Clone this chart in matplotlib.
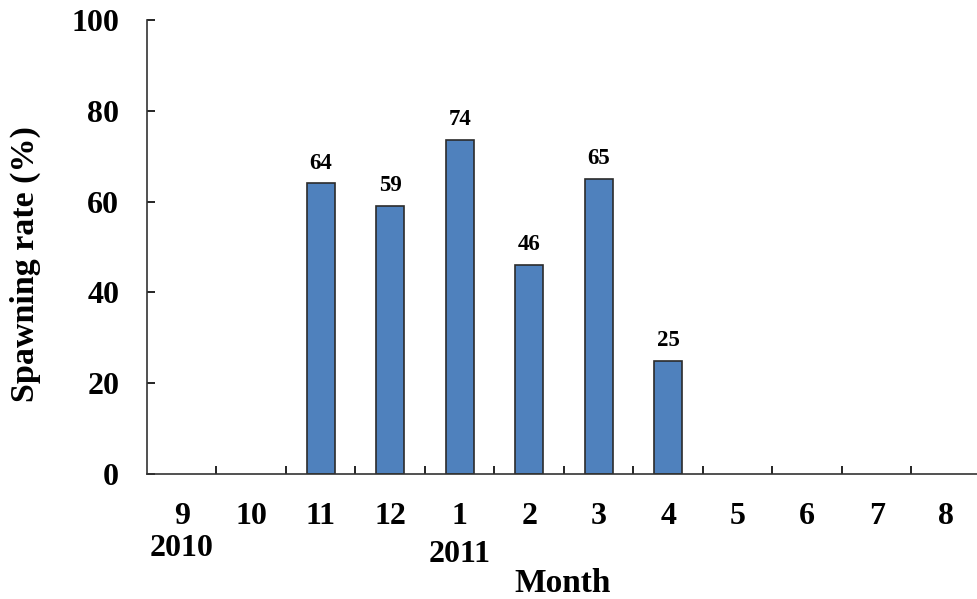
import matplotlib.pyplot as plt
import numpy as np

# monthly spawning rate, Sep 2010 - Aug 2011
months = ["9", "10", "11", "12", "1", "2", "3", "4", "5", "6", "7", "8"]
rate = [0, 0, 64, 59, 73.6, 46, 65, 25, 0, 0, 0, 0]
labels = ["", "", "64", "59", "74", "46", "65", "25", "", "", "", ""]
years = {0: "2010", 4: "2011"}

plt.rcParams['font.family'] = ['Liberation Serif', 'DejaVu Serif']
plt.rcParams['font.weight'] = 'bold'

fig = plt.figure(figsize=(9.78, 5.99), dpi=100)
ax = fig.add_axes([147/978, 1 - 474/599, 834/978, 454/599])

x = np.arange(len(months))
edges = ['#2b2b2b' if v > 0 else 'none' for v in rate]
ax.bar(x, rate, width=0.41, color='#4F81BD', edgecolor=edges, linewidth=1.2)

for i, (v, t) in enumerate(zip(rate, labels)):
    if t:
        ax.annotate(t, (i, v), xytext=(0, 7), textcoords='offset points',
                    ha='center', va='bottom', fontsize=16.5, fontweight='bold')

ax.set_xlim(-0.5, 11.5)
ax.set_ylim(0, 100)
ax.set_yticks([0, 20, 40, 60, 80, 100])

# boundary ticks without labels, labels centered on each month
ax.set_xticks(np.arange(0.5, 11.5, 1))
ax.set_xticklabels([])
ax.set_xticks(x, minor=True)
ax.set_xticklabels(months, minor=True)
ax.tick_params(axis='x', which='major', direction='in', length=6, width=1.2)
ax.tick_params(axis='x', which='minor', length=0, pad=20, labelsize=23)
ax.tick_params(axis='y', direction='in', length=6, width=1.2, pad=20, labelsize=23)

for i, y in years.items():
    ax.annotate(y, (i, 0), xycoords=('data', 'axes fraction'),
                xytext=(0, -75 - 5 * (i > 0)), textcoords='offset pixels',
                ha='center', va='center', fontsize=23, fontweight='bold')

for s in ['top', 'right']:
    ax.spines[s].set_visible(False)
for s in ['left', 'bottom']:
    ax.spines[s].set_linewidth(1.2)
    ax.spines[s].set_color('#333333')

fig.text(563/978, 1 - 583/599, "Month", ha='center', va='center', fontsize=24, fontweight='bold')
fig.text(25/978, 1 - 264/599, "Spawning rate (%)", ha='center', va='center',
         rotation=90, fontsize=24.5, fontweight='bold')

fig.savefig("out.png", dpi=100)
